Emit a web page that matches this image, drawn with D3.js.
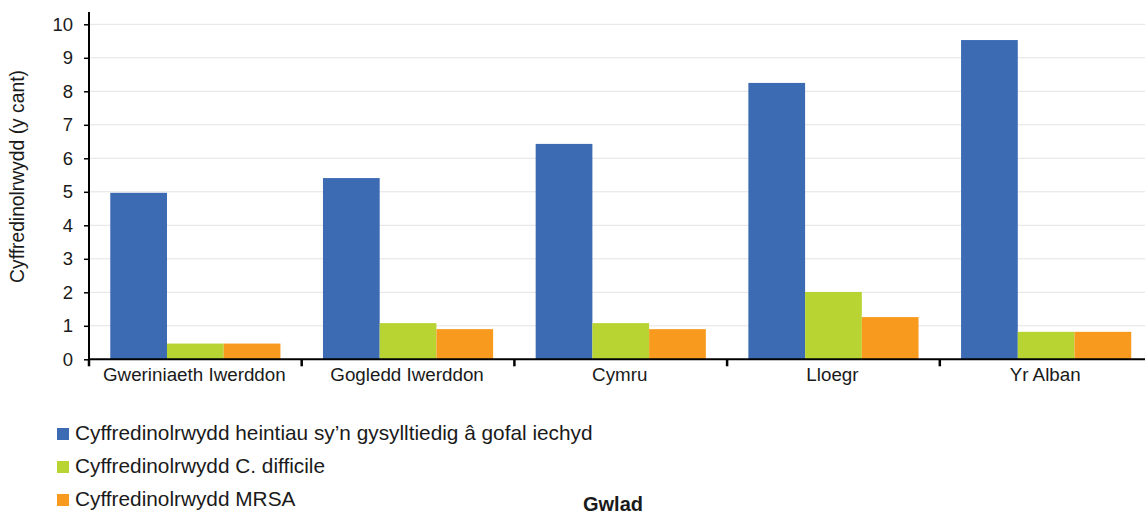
<!DOCTYPE html>
<html>
<head>
<meta charset="utf-8">
<script src="https://cdn.jsdelivr.net/npm/d3@7"></script>
<style>
  html, body { margin: 0; padding: 0; background: #fff; overflow: hidden; }
  svg { display: block; font-family: "Liberation Sans", Arial, sans-serif; }
</style>
</head>
<body>
<svg id="chart" width="1145" height="513"></svg>
<script>
// Countries along the x axis
const countries = ["Gweriniaeth Iwerddon", "Gogledd Iwerddon", "Cymru", "Lloegr", "Yr Alban"];

// Prevalence (per cent) for each measure
const series = [
  "Cyffredinolrwydd heintiau sy\u2019n gysylltiedig \u00e2 gofal iechyd",
  "Cyffredinolrwydd C. difficile",
  "Cyffredinolrwydd MRSA"
];
const hcaiValues       = [4.97, 5.41, 6.43, 8.25, 9.53];
const cdifficileValues = [0.47, 1.08, 1.08, 2.01, 0.82];
const mrsaValues       = [0.47, 0.90, 0.90, 1.26, 0.82];
const seriesValues = [hcaiValues, cdifficileValues, mrsaValues];

const yTicks = [0, 1, 2, 3, 4, 5, 6, 7, 8, 9, 10];
const colors = ["#3c6bb4", "#b8d433", "#f79a1e"];

const svg = d3.select("#chart");
const W = 1145;
const plotLeft = 89, plotBottom = 359.3, plotTop = 24.3;
const plotRight = plotLeft + 5 * 212.7;

const x = d3.scaleBand().domain(countries).range([plotLeft, plotRight])
  .paddingInner(0.2).paddingOuter(0.1);
const xs = d3.scaleBand().domain(series).range([0, x.bandwidth()]);
const y = d3.scaleLinear().domain([0, 10]).range([plotBottom, plotTop]);

// Gridlines
svg.append("g").selectAll("line").data(yTicks.filter(d => d > 0)).join("line")
  .attr("x1", plotLeft).attr("x2", W)
  .attr("y1", d => y(d)).attr("y2", d => y(d))
  .attr("stroke", "#e3e3e3").attr("stroke-width", 1);

// Bars
const rows = countries.map((c, i) => ({ c, vals: series.map((s, j) => ({ s, v: seriesValues[j][i], j })) }));
svg.append("g").selectAll("g").data(rows).join("g")
  .attr("transform", d => `translate(${x(d.c)},0)`)
  .selectAll("rect").data(d => d.vals).join("rect")
  .attr("x", d => xs(d.s)).attr("width", xs.bandwidth())
  .attr("y", d => y(d.v)).attr("height", d => y(0) - y(d.v))
  .attr("fill", d => colors[d.j]);

// Y axis
const yAxis = svg.append("g").attr("transform", `translate(${plotLeft},0)`)
  .call(d3.axisLeft(y).tickValues(yTicks).tickSize(5).tickPadding(11).tickFormat(d3.format("d")));
yAxis.select(".domain").attr("d", `M0,12V${plotBottom}`).attr("stroke", "#000").attr("stroke-width", 2);
yAxis.selectAll(".tick line").attr("stroke", "#000").attr("stroke-width", 1.5);
yAxis.selectAll(".tick text").attr("font-size", 18.5).attr("fill", "#1a1a1a")
  .attr("font-family", "Liberation Sans, Arial, sans-serif");

// X axis line and category separators
svg.append("line").attr("x1", plotLeft - 1).attr("x2", W).attr("y1", plotBottom).attr("y2", plotBottom)
  .attr("stroke", "#000").attr("stroke-width", 2);
const step = x.step();
const edges = d3.range(countries.length + 1).map(i => plotLeft + i * step);
svg.append("g").selectAll("line").data(edges).join("line")
  .attr("x1", d => d).attr("x2", d => d)
  .attr("y1", plotBottom).attr("y2", plotBottom + 7)
  .attr("stroke", "#000").attr("stroke-width", 2.5);

// Category labels
svg.append("g").selectAll("text").data(countries).join("text")
  .attr("x", d => x(d) + x.bandwidth() / 2 - 1).attr("y", 381)
  .attr("text-anchor", "middle").attr("font-size", 18.8).attr("fill", "#1a1a1a")
  .text(d => d);

// Y axis title
svg.append("text")
  .attr("transform", `translate(24,176.5) rotate(-90)`)
  .attr("text-anchor", "middle").attr("font-size", 19.3).attr("fill", "#1a1a1a")
  .text("Cyffredinolrwydd (y cant)");

// Legend
const legend = svg.append("g").selectAll("g").data(series).join("g")
  .attr("transform", (d, i) => `translate(57,${428 + i * 33})`);
legend.append("rect").attr("width", 12).attr("height", 12).attr("fill", (d, i) => colors[i]);
legend.append("text").attr("x", 18).attr("y", 12).attr("font-size", 20.8).attr("fill", "#1a1a1a")
  .text(d => d);

// X axis title
svg.append("text").attr("x", 613).attr("y", 510.5).attr("text-anchor", "middle")
  .attr("font-size", 20).attr("font-weight", "bold").attr("fill", "#1a1a1a")
  .text("Gwlad");
</script>
</body>
</html>
